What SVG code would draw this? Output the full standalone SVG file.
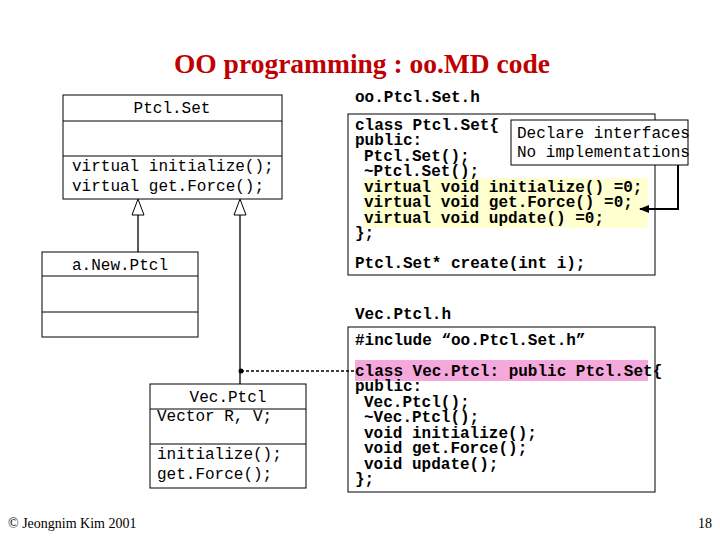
<svg xmlns="http://www.w3.org/2000/svg" width="720" height="540" viewBox="0 0 720 540">
<style>
.m{font-family:"Liberation Mono",monospace;font-size:16px;fill:#000}
.b{font-weight:bold}
.box{fill:none;stroke:#000;stroke-width:1}
.ln{stroke:#000;stroke-width:1.3;fill:none}
</style>
<defs>
<marker id="ah" markerWidth="10" markerHeight="8" refX="9" refY="4" orient="auto" markerUnits="userSpaceOnUse"><path d="M0,0 L10,4 L0,8 z" fill="#000"/></marker>
</defs>
<rect width="720" height="540" fill="#fff"/>
<text x="362" y="73" text-anchor="middle" font-family="Liberation Serif,serif" font-weight="bold" font-size="27.5" fill="#c00000">OO programming : oo.MD code</text>
<g id="PtclSet">
<rect class="box" x="63" y="95" width="219" height="104"/>
<line class="box" x1="63" y1="121" x2="282" y2="121"/>
<line class="box" x1="63" y1="156" x2="282" y2="156"/>
<text class="m" x="172" y="113" text-anchor="middle">Ptcl.Set</text>
<text class="m" x="72" y="171">virtual initialize();</text>
<text class="m" x="72" y="191">virtual get.Force();</text>
</g>
<g id="aNewPtcl">
<rect class="box" x="42" y="252" width="156" height="85"/>
<line class="box" x1="42" y1="276" x2="198" y2="276"/>
<line class="box" x1="42" y1="312" x2="198" y2="312"/>
<text class="m" x="120" y="270" text-anchor="middle">a.New.Ptcl</text>
</g>
<g id="VecPtcl">
<rect class="box" x="150" y="384" width="156" height="104"/>
<line class="box" x1="150" y1="409" x2="306" y2="409"/>
<line class="box" x1="150" y1="444" x2="306" y2="444"/>
<text class="m" x="228" y="402" text-anchor="middle">Vec.Ptcl</text>
<text class="m" x="157" y="421">Vector R, V;</text>
<text class="m" x="157" y="459">initialize();</text>
<text class="m" x="157" y="479">get.Force();</text>
</g>
<g id="header">
<text class="m b" x="355" y="102">oo.Ptcl.Set.h</text>
<rect x="363" y="178" width="285" height="50" fill="#ffffd0"/>
<rect class="box" x="348" y="114" width="307" height="161"/>
<text class="m b" x="355" y="130">class Ptcl.Set{</text>
<text class="m b" x="355" y="145">public:</text>
<text class="m b" x="364" y="161">Ptcl.Set();</text>
<text class="m b" x="364" y="176">~Ptcl.Set();</text>
<text class="m b" x="364" y="192">virtual void initialize() =0;</text>
<text class="m b" x="364" y="207">virtual void get.Force() =0;</text>
<text class="m b" x="364" y="223">virtual void update() =0;</text>
<text class="m b" x="355" y="238">};</text>
<text class="m b" x="355" y="268">Ptcl.Set* create(int i);</text>
</g>
<g id="note">
<rect x="511" y="120" width="177" height="45" fill="#fff" stroke="#000"/>
<text class="m" x="517" y="138" font-size="14.5">Declare interfaces</text>
<text class="m" x="517" y="157" font-size="14.5">No implementations</text>
</g>
<g id="vecheader">
<text class="m b" x="355" y="319">Vec.Ptcl.h</text>
<rect x="355" y="360" width="293" height="21" fill="#f5a8dc"/>
<rect class="box" x="348" y="327" width="307" height="165"/>
<text class="m b" x="355" y="345">#include “oo.Ptcl.Set.h”</text>
<text class="m b" x="355" y="376" font-size="15">class Vec.Ptcl: public Ptcl.Set{</text>
<text class="m b" x="355" y="391">public:</text>
<text class="m b" x="364" y="407">Vec.Ptcl();</text>
<text class="m b" x="364" y="422">~Vec.Ptcl();</text>
<text class="m b" x="364" y="438">void initialize();</text>
<text class="m b" x="364" y="453">void get.Force();</text>
<text class="m b" x="364" y="469">void update();</text>
<text class="m b" x="355" y="484">};</text>
</g>
<g id="connectors">
<line class="ln" x1="138" y1="215" x2="138" y2="252"/>
<polygon points="138,199 132,215 144,215" fill="#fff" stroke="#000"/>
<line class="ln" x1="240" y1="215" x2="240" y2="384"/>
<polygon points="240,199 234,215 246,215" fill="#fff" stroke="#000"/>
<circle cx="241" cy="371" r="2.5" fill="#000"/>
<line x1="241" y1="371" x2="356" y2="371" stroke="#000" stroke-width="1.5" stroke-dasharray="3,2"/>
<path d="M678,165 V209 H640" stroke="#000" stroke-width="2" fill="none" marker-end="url(#ah)"/>
</g>
<text x="8" y="528" font-family="Liberation Serif,serif" font-size="14">© Jeongnim Kim 2001</text>
<text x="712" y="528" text-anchor="end" font-family="Liberation Serif,serif" font-size="14">18</text>
</svg>
